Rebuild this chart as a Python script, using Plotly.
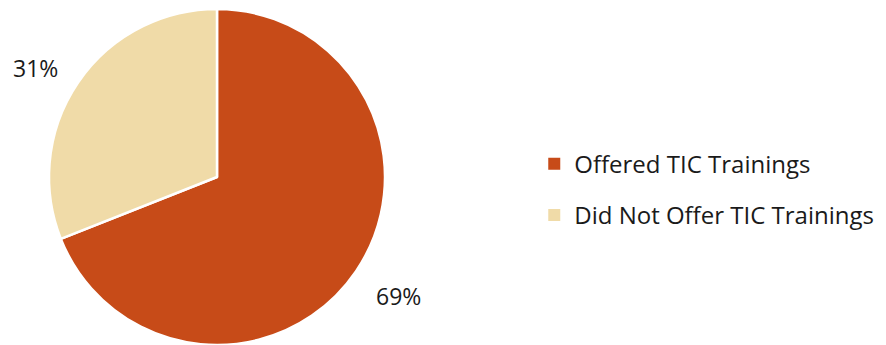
import plotly.graph_objects as go

categories = ["Offered TIC Trainings", "Did Not Offer TIC Trainings"]
values = [69, 31]
colors = ["#C74B18", "#F0DBA8"]

W, H = 886, 345
cx, cy, r = 217, 177, 168

fig = go.Figure()
fig.add_trace(go.Pie(
    labels=categories, values=values, sort=False, direction="clockwise", rotation=0,
    marker=dict(colors=colors, line=dict(color="white", width=2.5)),
    textinfo="none", hoverinfo="label+percent", showlegend=False,
    domain=dict(x=[(cx - r) / W, (cx + r) / W], y=[max(0, 1 - (cy + r) / H), 1 - (cy - r) / H]),
))

# legend entries via dummy scatter traces so spacing can be set
for i, (c, col) in enumerate(zip(categories, colors)):
    fig.add_trace(go.Scatter(
        x=[None], y=[None], mode="markers", name=c, legendgroup=f"g{i}",
        marker=dict(symbol="square", size=11, color=col), showlegend=True,
    ))

total = sum(values)
label_pos = [(398, 296), (35, 68)]
for v, (lx, ly) in zip(values, label_pos):
    fig.add_annotation(
        x=lx / W, y=1 - ly / H, xref="paper", yref="paper",
        text=f"{round(100 * v / total)}%", showarrow=False,
        font=dict(family="Open Sans", size=23, color="#1a1a1a"),
        xanchor="center", yanchor="middle",
    )

fig.update_layout(
    width=W, height=H, margin=dict(l=0, r=0, t=0, b=0),
    paper_bgcolor="white", plot_bgcolor="white",
    xaxis=dict(visible=False), yaxis=dict(visible=False),
    legend=dict(x=0.603, y=0.45, xanchor="left", yanchor="middle",
                font=dict(family="Open Sans", size=24, color="#1a1a1a"),
                tracegroupgap=17, itemsizing="constant", bgcolor="rgba(0,0,0,0)"),
)

fig.write_html("out.html")
